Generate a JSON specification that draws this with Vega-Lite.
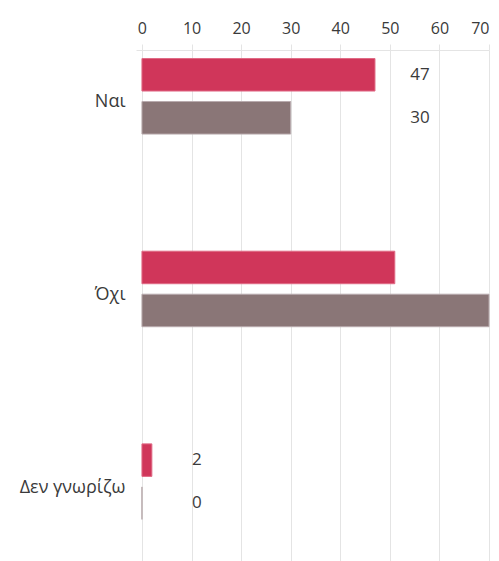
{
  "$schema": "https://vega.github.io/schema/vega-lite/v6.json",
  "width": 353,
  "height": 511,
  "autosize": {"type": "none"},
  "padding": {"left": 136, "top": 50, "right": 10, "bottom": 0},
  "background": "white",
  "config": {"view": {"stroke": null}, "font": "Open Sans"},
  "data": {
    "values": [
      {"category": "Ναι", "series": "Σειρά 1", "value": 47},
      {"category": "Ναι", "series": "Σειρά 2", "value": 30},
      {"category": "Όχι", "series": "Σειρά 1", "value": 51},
      {"category": "Όχι", "series": "Σειρά 2", "value": 70},
      {"category": "Δεν γνωρίζω", "series": "Σειρά 1", "value": 2},
      {"category": "Δεν γνωρίζω", "series": "Σειρά 2", "value": 0}
    ]
  },
  "encoding": {
    "y": {
      "field": "category",
      "type": "nominal",
      "sort": ["Ναι", "Όχι", "Δεν γνωρίζω"],
      "title": null,
      "scale": {"paddingInner": 0.608, "paddingOuter": 0.13, "align": 0.17},
      "axis": {
        "domain": false,
        "ticks": false,
        "labelFontSize": 18,
        "labelColor": "#3a3a3a",
        "labelPadding": 11,
        "labelOffset": 6
      }
    },
    "yOffset": {
      "field": "series",
      "type": "nominal",
      "sort": ["Σειρά 1", "Σειρά 2"],
      "scale": {"paddingInner": 0.244, "paddingOuter": 0}
    }
  },
  "layer": [
    {
      "mark": {"type": "bar", "strokeWidth": 1},
      "encoding": {
        "x": {
          "field": "value",
          "type": "quantitative",
          "title": null,
          "scale": {"domain": [-1.2, 70], "nice": false, "zero": false},
          "axis": {
            "orient": "top",
            "values": [0, 10, 20, 30, 40, 50, 60, 70],
            "grid": true,
            "gridColor": "#e4e4e4",
            "domainColor": "#e4e4e4",
            "tickColor": "#e4e4e4",
            "tickSize": 6,
            "labelFontSize": 16,
            "labelColor": "#3a3a3a",
            "labelPadding": 8
          }
        },
        "x2": {"datum": 0},
        "color": {
          "field": "series",
          "type": "nominal",
          "scale": {"domain": ["Σειρά 1", "Σειρά 2"], "range": ["#D0365A", "#8A7677"]},
          "legend": null
        },
        "stroke": {
          "field": "series",
          "type": "nominal",
          "scale": {"domain": ["Σειρά 1", "Σειρά 2"], "range": ["#e06a85", "#b9abae"]},
          "legend": null
        }
      }
    },
    {
      "transform": [
        {"joinaggregate": [{"op": "max", "field": "value", "as": "groupMax"}], "groupby": ["category"]},
        {"filter": "datum.groupMax < 60"}
      ],
      "mark": {"type": "text", "align": "center", "baseline": "middle", "dx": 45, "fontSize": 17, "color": "#3a3a3a"},
      "encoding": {
        "x": {"field": "groupMax", "type": "quantitative", "title": null},
        "text": {"field": "value", "type": "quantitative"}
      }
    }
  ]
}
